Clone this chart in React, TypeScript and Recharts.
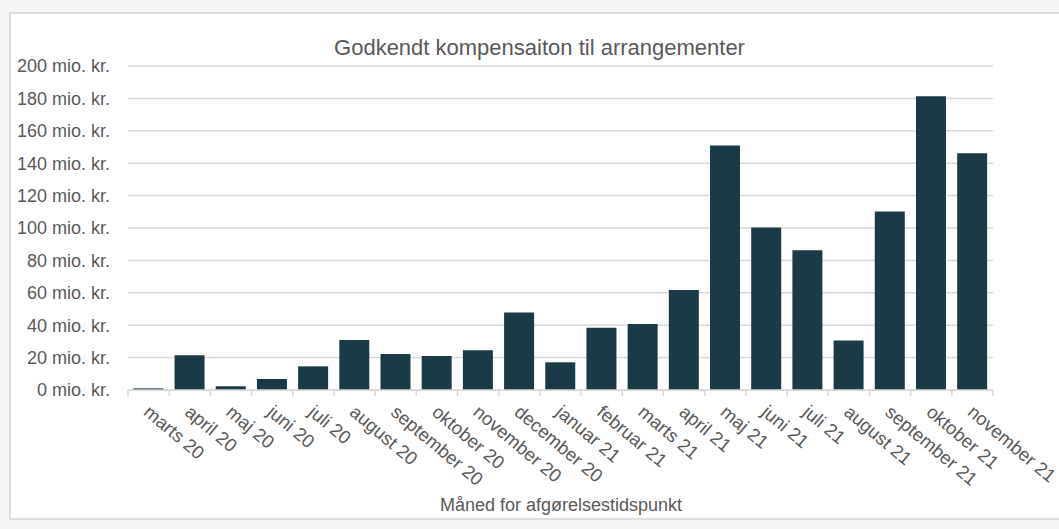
import React from "react";
import { BarChart, Bar, XAxis, YAxis, CartesianGrid } from "recharts";

const categories = [
  "marts 20", "april 20", "maj 20", "juni 20", "juli 20", "august 20",
  "september 20", "oktober 20", "november 20", "december 20", "januar 21",
  "februar 21", "marts 21", "april 21", "maj 21", "juni 21", "juli 21",
  "august 21", "september 21", "oktober 21", "november 21",
];
const values = [
  1.0, 21.4, 2.3, 6.8, 14.6, 30.8, 22.2, 21.0, 24.5, 47.9, 17.1,
  38.4, 40.7, 61.7, 150.9, 100.3, 86.2, 30.6, 110.2, 181.3, 146.2,
];
const yTicks = [0, 20, 40, 60, 80, 100, 120, 140, 160, 180, 200];
const title = "Godkendt kompensaiton til arrangementer";
const xTitle = "Måned for afgørelsestidspunkt";

const data = categories.map((c, i) => ({ name: c, value: values[i] }));

const FONT = "'Liberation Sans', Arial, sans-serif";
const TEXT = "#595959";
const GRID = "#d9d9d9";

const XTick = (props: any) => {
  const { x, y, payload, index } = props;
  const off = payload && payload.offset ? payload.offset : 19.65;
  const last = index === categories.length - 1;
  const tx = x - 6;
  const ty = y + 24;
  return (
    <g>
      <line x1={x - off} y1={y} x2={x - off} y2={y + 6} stroke={GRID} strokeWidth={1.5} />
      {last && <line x1={x + off} y1={y} x2={x + off} y2={y + 6} stroke={GRID} strokeWidth={1.5} />}
      <text
        x={tx}
        y={ty}
        transform={`rotate(40, ${tx}, ${ty})`}
        textAnchor="start"
        fill={TEXT}
        fontSize={18.5}
        fontFamily={FONT}
      >
        {payload.value}
      </text>
    </g>
  );
};

export default function App() {
  return (
    <div style={{ position: "absolute", left: 0, top: 0, width: 1059, height: 529, background: "#f4f6f6", overflow: "hidden" }}>
      <div style={{ position: "absolute", left: 9, top: 12, width: 1100, height: 504, background: "#ffffff", border: "2px solid #dedede" }} />
      <div style={{ position: "absolute", left: 0, top: 0 }}>
        <BarChart
          width={1059}
          height={529}
          data={data}
          margin={{ top: 66, right: 66, bottom: 39, left: 0 }}
          barCategoryGap="13%"
        >
          <CartesianGrid vertical={false} stroke={GRID} strokeWidth={1.5} />
          <XAxis
            dataKey="name"
            interval={0}
            height={100}
            tickSize={0}
            tickMargin={0}
            axisLine={{ stroke: GRID, strokeWidth: 1.5 }}
            tickLine={false}
            tick={<XTick />}
          />
          <YAxis
            width={128}
            domain={[0, 200]}
            ticks={yTicks}
            interval={0}
            axisLine={false}
            tickLine={false}
            tickSize={0}
            tickMargin={18}
            tickFormatter={(v: number) => `${v} mio. kr.`}
            tick={{ fill: TEXT, fontSize: 18, fontFamily: FONT }}
          />
          <Bar dataKey="value" fill="#1c3a46" isAnimationActive={false} />
        </BarChart>
      </div>
      <svg width={1059} height={529} style={{ position: "absolute", left: 0, top: 0, pointerEvents: "none" }}>
        <text x={539.5} y={55} textAnchor="middle" fill={TEXT} fontSize={22} fontFamily={FONT}>{title}</text>
        <text x={561} y={511} textAnchor="middle" fill={TEXT} fontSize={18} fontFamily={FONT}>{xTitle}</text>
      </svg>
    </div>
  );
}
